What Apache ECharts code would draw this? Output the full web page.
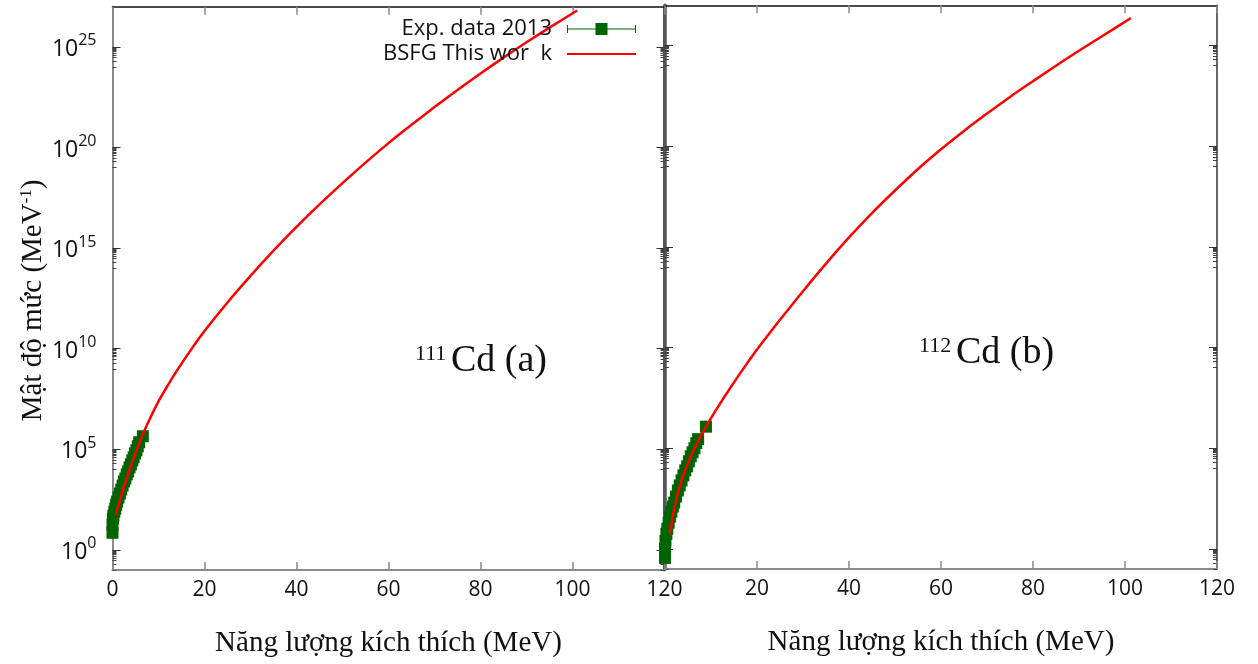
<!DOCTYPE html>
<html>
<head>
<meta charset="utf-8">
<script src="https://cdn.jsdelivr.net/npm/echarts@6/dist/echarts.min.js"></script>
<style>
  html, body { margin: 0; padding: 0; background: #fff; }
  #chart { width: 1258px; height: 664px; }
</style>
</head>
<body>
<div id="chart"></div>
<script>
// ---- Data (level density shown as log10 exponent) ----
const xTicks = [0, 20, 40, 60, 80, 100, 120];
const yTickExponents = [0, 5, 10, 15, 20, 25];

// 111Cd BSFG curve
const x111Curve = [0.75, 1, 2, 3, 4, 5, 6, 7, 8, 10, 12, 14, 17, 20, 25, 30, 35, 40, 45, 50, 55, 60, 65, 70, 75, 80, 85, 90, 95, 101];
const log111Curve = [1.72, 1.97, 2.77, 3.5, 4.17, 4.82, 5.42, 5.96, 6.46, 7.38, 8.17, 8.91, 9.93, 10.88, 12.3, 13.62, 14.87, 16.05, 17.17, 18.23, 19.25, 20.22, 21.13, 22.01, 22.86, 23.68, 24.47, 25.23, 25.96, 26.81];
// 111Cd experimental data 2013
const x111Exp = [0.0, 0.0, 0.1, 0.2, 0.4, 0.6, 0.8, 1.0, 1.3, 1.6, 1.9, 2.2, 2.5, 2.8, 3.1, 3.4, 3.7, 4.0, 4.3, 4.6, 4.9, 5.2, 5.5, 5.8, 6.6];
const log111Exp = [0.85, 1.25, 1.55, 1.7, 1.9, 2.05, 2.25, 2.4, 2.6, 2.8, 3.0, 3.2, 3.4, 3.55, 3.75, 3.9, 4.1, 4.25, 4.45, 4.6, 4.8, 4.95, 5.15, 5.35, 5.65];

// 112Cd BSFG curve
const x112Curve = [1.1, 2, 3, 4, 5, 6, 7, 8, 10, 12, 14, 17, 20, 22.5, 25, 30, 35, 40, 45, 50, 55, 60, 65, 70, 75, 80, 85, 90, 95, 101.3];
const log112Curve = [0.75, 2.0, 2.95, 3.67, 4.27, 4.79, 5.26, 5.69, 6.49, 7.23, 7.93, 8.94, 9.9, 10.65, 11.38, 12.8, 14.17, 15.47, 16.68, 17.8, 18.87, 19.85, 20.76, 21.62, 22.45, 23.23, 24.0, 24.74, 25.46, 26.37];
// 112Cd experimental data 2013
const x112Exp = [0.0, 0.0, 0.1, 0.3, 0.5, 0.8, 1.1, 1.4, 1.7, 2.0, 2.4, 2.8, 3.2, 3.6, 4.0, 4.4, 4.8, 5.2, 5.6, 6.0, 6.4, 6.8, 7.2, 8.9];
const log112Exp = [-0.45, 0.0, 0.4, 0.75, 1.0, 1.3, 1.6, 1.85, 2.1, 2.3, 2.6, 2.9, 3.15, 3.4, 3.65, 3.9, 4.1, 4.35, 4.6, 4.8, 5.0, 5.25, 5.45, 6.07];

const expName = 'Exp. data 2013';
const fitName = 'BSFG This wor  k';
const xTitle = 'Năng lượng kích thích (MeV)';

// ---- helpers ----
const zip = (a, b) => a.map((v, i) => [v, b[i]]);
const minorTicks = [];
yTickExponents.forEach(e => {
  for (let k = 1; k <= 9; k++) minorTicks.push(e - 1 + Math.log10(k));
});

const SANS = "'Open Sans', 'DejaVu Sans', sans-serif";
const SERIF = "'Liberation Serif', 'DejaVu Serif', serif";
const GREY = '#8a8a8a';
const DARK = '#555555';

function xAxes(grid, isLeft) {
  return [
    {
      gridIndex: grid, type: 'value', position: 'bottom', min: 0, max: 120, interval: 20,
      axisLine: { show: true, onZero: false, lineStyle: { color: GREY, width: 2 } },
      axisTick: { show: true, inside: true, length: 8, lineStyle: { color: GREY, width: 1.5 } },
      axisLabel: { show: true, margin: 10, fontFamily: SANS, fontSize: 21, color: '#111', showMinLabel: isLeft },
      splitLine: { show: false },
      name: xTitle, nameLocation: 'middle', nameGap: 59,
      nameTextStyle: { fontFamily: SERIF, fontSize: 29, color: '#111' }
    },
    {
      gridIndex: grid, type: 'value', position: 'top', min: 0, max: 120, interval: 20,
      axisLine: { show: true, onZero: false, lineStyle: { color: '#111', width: 1.5 } },
      axisTick: { show: true, inside: true, length: 8, lineStyle: { color: GREY, width: 1.5 } },
      axisLabel: { show: false }, splitLine: { show: false }
    }
  ];
}

function yAxis(grid, pos, lineColor, lineWidth, labels, withName) {
  const major = {
    gridIndex: grid, type: 'value', position: pos, min: -1, max: 27,
    axisLine: { show: true, onZero: false, lineStyle: { color: lineColor, width: lineWidth } },
    axisTick: { show: true, inside: true, length: 8, customValues: yTickExponents, lineStyle: { color: '#333', width: 1 } },
    axisLabel: labels ? {
      show: true, margin: 16, customValues: yTickExponents,
      formatter: v => '{b|10}{s|' + v + '}',
      rich: {
        b: { fontFamily: SANS, fontSize: 23, color: '#111', lineHeight: 28, verticalAlign: 'bottom' },
        s: { fontFamily: SANS, fontSize: 16, color: '#111', lineHeight: 16, verticalAlign: 'top' }
      }
    } : { show: false },
    splitLine: { show: false }
  };
  if (withName) {
    Object.assign(major, {
      name: 'Mật độ mức (MeV{sup|-1})', nameLocation: 'middle', nameGap: 64, nameRotate: 90,
      nameTextStyle: {
        fontFamily: SERIF, fontSize: 29, color: '#111', padding: [0, 24, 0, 0],
        rich: { sup: { fontFamily: SERIF, fontSize: 17, color: '#111', padding: [0, 0, 13, 0] } }
      }
    });
  }
  const minor = {
    gridIndex: grid, type: 'value', position: pos, min: -1, max: 27,
    axisLine: { show: false, onZero: false },
    axisTick: { show: true, inside: true, length: 4, customValues: minorTicks, lineStyle: { color: '#444', width: 1 } },
    axisLabel: { show: false }, splitLine: { show: false }
  };
  return [major, minor];
}

const option = {
  backgroundColor: '#ffffff',
  animation: false,
  grid: [
    { left: 112.5, top: 6.7, width: 552, height: 563.3 },
    { left: 665, top: 5.3, width: 552, height: 563.7 }
  ],
  xAxis: [...xAxes(0, true), ...xAxes(1, false)],
  yAxis: [
    ...yAxis(0, 'left', GREY, 2, true, true),   // 0,1
    ...yAxis(0, 'right', DARK, 3, false, false), // 2,3
    ...yAxis(1, 'left', DARK, 3.5, false, false),// 4,5
    ...yAxis(1, 'right', '#333', 1.5, false, false) // 6,7
  ],
  legend: {
    right: 616, top: 13, orient: 'vertical', align: 'right',
    itemWidth: 69, itemHeight: 14, itemGap: 3,
    textStyle: { fontFamily: SANS, fontSize: 22, color: '#111', padding: [0, 10, 0, 0] },
    data: [
      { name: expName, icon: 'path://M0,3h1v8h-1Z M68,3h1v8h-1Z M0,6.5h69v1h-69Z M28.5,1h12v12h-12Z' },
      { name: fitName, itemStyle: { opacity: 0 } }
    ]
  },
  graphic: [
    { type: 'text', x: 415, y: 354, style: { text: '111', fontFamily: SERIF, fontSize: 22, fill: '#111', verticalAlign: 'middle' } },
    { type: 'text', x: 451, y: 361, style: { text: 'Cd (a)', fontFamily: SERIF, fontSize: 38, fill: '#111', verticalAlign: 'middle' } },
    { type: 'text', x: 919, y: 346, style: { text: '112', fontFamily: SERIF, fontSize: 22, fill: '#111', verticalAlign: 'middle' } },
    { type: 'text', x: 956, y: 353, style: { text: 'Cd (b)', fontFamily: SERIF, fontSize: 38, fill: '#111', verticalAlign: 'middle' } }
  ],
  series: [
    {
      name: expName, type: 'scatter', xAxisIndex: 0, yAxisIndex: 0, clip: false, z: 2,
      symbol: 'rect', symbolSize: 12, itemStyle: { color: '#006400', opacity: 1 },
      data: zip(x111Exp, log111Exp)
    },
    {
      name: fitName, type: 'line', xAxisIndex: 0, yAxisIndex: 0, z: 3,
      symbol: 'none', smooth: 0.3, lineStyle: { color: '#ff0000', width: 2.5 }, itemStyle: { color: '#ff0000' },
      data: zip(x111Curve, log111Curve)
    },
    {
      name: expName, type: 'scatter', xAxisIndex: 2, yAxisIndex: 4, clip: false, z: 2,
      symbol: 'rect', symbolSize: 12, itemStyle: { color: '#006400', opacity: 1 },
      data: zip(x112Exp, log112Exp)
    },
    {
      name: fitName, type: 'line', xAxisIndex: 2, yAxisIndex: 4, z: 3,
      symbol: 'none', smooth: 0.3, lineStyle: { color: '#ff0000', width: 2.5 }, itemStyle: { color: '#ff0000' },
      data: zip(x112Curve, log112Curve)
    }
  ]
};

const chart = echarts.init(document.getElementById('chart'), null, { renderer: 'canvas' });
chart.setOption(option);
</script>
</body>
</html>
